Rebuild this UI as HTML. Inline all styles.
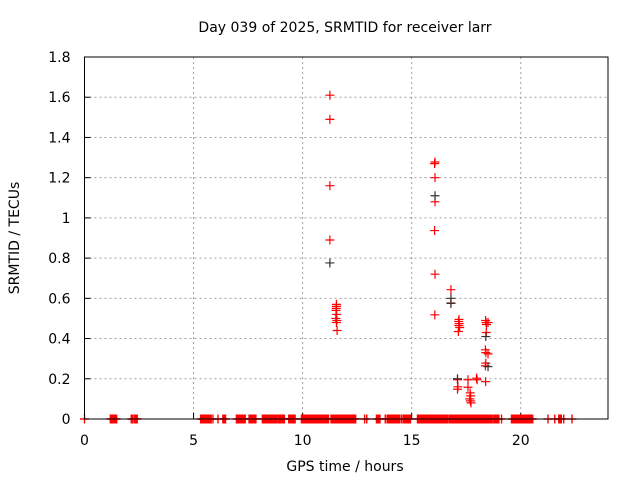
<!DOCTYPE html>
<html><head><meta charset="utf-8"><style>
body{margin:0;background:#fff;width:640px;height:480px;overflow:hidden}
svg{font-family:"DejaVu Sans","Liberation Sans",sans-serif;font-size:14px}
</style></head><body>
<svg id="chart" width="640" height="480" xmlns="http://www.w3.org/2000/svg"></svg>
<script>
const xTicks=[0,5,10,15,20];
const yTicks=[0,0.2,0.4,0.6,0.8,1,1.2,1.4,1.6,1.8];
const yTickLabels=["0","0.2","0.4","0.6","0.8","1","1.2","1.4","1.6","1.8"];
// observation spans (hours) where SRMTID = 0
const zeroRunStart=[0.0,1.18,2.14,2.29,5.32,5.89,6.12,6.34,6.96,7.54,8.15,8.88,9.36,9.94,11.3,11.57,12.43,12.84,12.94,13.38,13.79,13.87,14.11,14.53,14.6,15.26,16.73,18.76,19.12,19.57,20.08,20.26,20.55,21.25,21.56,21.74,21.97,22.35];
const zeroRunEnd=[0.0,1.48,2.22,2.42,5.81,5.89,6.12,6.47,7.37,7.86,8.82,9.17,9.66,11.19,11.54,12.39,12.43,12.84,12.94,13.55,13.79,14.07,14.45,14.53,14.95,16.67,18.69,19.0,19.12,20.03,20.22,20.49,20.55,21.25,21.56,21.86,21.97,22.35];
const redHours=[11.25,11.25,11.25,11.25,11.55,11.55,11.54,11.53,11.56,11.52,11.57,11.55,11.58,16.07,16.05,16.07,16.07,16.05,16.07,16.06,16.8,16.8,17.17,17.15,17.18,17.16,17.2,17.14,17.1,17.12,17.1,17.58,17.58,17.68,17.7,17.66,17.69,17.72,17.97,18.0,18.39,18.41,18.43,18.42,18.38,18.4,18.4,18.39,18.5,18.5,18.38];
const redValues=[1.61,1.49,1.16,0.89,0.57,0.56,0.55,0.54,0.52,0.50,0.49,0.48,0.44,1.278,1.27,1.20,1.08,0.937,0.72,0.518,0.643,0.577,0.495,0.485,0.475,0.465,0.455,0.435,0.195,0.16,0.148,0.195,0.158,0.13,0.115,0.10,0.09,0.08,0.203,0.195,0.49,0.48,0.47,0.43,0.344,0.33,0.278,0.186,0.48,0.324,0.264];
const blackHours=[11.25,16.07,16.8,16.8,18.4,18.5,17.1];
const blackValues=[0.776,1.11,0.6,0.575,0.41,0.26,0.2];
</script>
<script>
const L=84.5,R=608,T=57,B=419,XMAX=24,YMAX=1.8;
const xs=h=>L+(R-L)*h/XMAX, ys=v=>B-(B-T)*v/YMAX;
const svg=document.getElementById('chart');
const NS='http://www.w3.org/2000/svg';
function mk(tag,attrs,parent){const e=document.createElementNS(NS,tag);for(const k in attrs)e.setAttribute(k,attrs[k]);(parent||svg).appendChild(e);return e;}
yTicks.forEach((v,i)=>{
  if(v>0&&v<YMAX){const g=mk('line',{x1:L,x2:R,y1:ys(v),y2:ys(v),stroke:'#a0a0a0','stroke-dasharray':'2,3'});
  
  }
  const t=mk('text',{x:L-14,y:ys(v)+5,'text-anchor':'end'});t.textContent=yTickLabels[i];
  
  
  const tk=mk('line',{x1:L,x2:L+6,y1:ys(v),y2:ys(v),stroke:'#000'});
  
  
});
xTicks.forEach(h=>{
  if(h>0){const g=mk('line',{x1:xs(h),x2:xs(h),y1:T,y2:B,stroke:'#a0a0a0','stroke-dasharray':'2,3'});
  
  }
  const t=mk('text',{x:xs(h),y:B+26,'text-anchor':'middle'});t.textContent=String(h);
  
  
  const tk=mk('line',{x1:xs(h),x2:xs(h),y1:B,y2:B-6,stroke:'#000'});
  
  
});
function cross(h,v,c,name){
  const x=xs(h),y=ys(v);
  const p=mk('path',{d:`M${x-4.5},${y}H${x+4.5}M${x},${y-4.5}V${y+4.5}`,stroke:c,'stroke-width':1.2,fill:'none'});
  
  
}
zeroRunStart.forEach((s,i)=>{
  const e=zeroRunEnd[i];
  for(let h=s;h<=e+1e-9;h+=0.04) cross(h,0,'#f00','zero-point');
  cross(e,0,'#f00','zero-point');
});
redHours.forEach((h,i)=>cross(h,redValues[i],'#f00','srmtid-point'));
blackHours.forEach((h,i)=>cross(h,blackValues[i],'#333','srmtid-point-dark'));
const fr=mk('rect',{x:L,y:T,width:R-L,height:B-T,fill:'none',stroke:'#000'});


const ti=mk('text',{x:345,y:32,'text-anchor':'middle'});ti.textContent='Day 039 of 2025, SRMTID for receiver larr';


const xl=mk('text',{x:345,y:471,'text-anchor':'middle'});xl.textContent='GPS time / hours';


const yl=mk('text',{x:0,y:0,'text-anchor':'middle',transform:'translate(19,238) rotate(-90)'});yl.textContent='SRMTID / TECUs';


</script>
</body></html>
